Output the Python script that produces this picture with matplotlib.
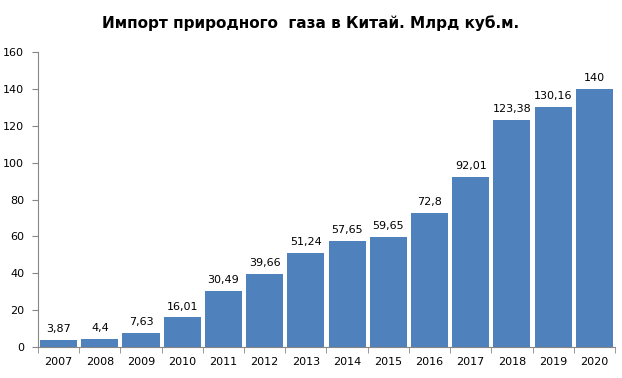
import matplotlib
matplotlib.use("Agg")
import matplotlib.pyplot as plt
import numpy as np

years = ["2007", "2008", "2009", "2010", "2011", "2012", "2013", "2014",
         "2015", "2016", "2017", "2018", "2019", "2020"]
values = [3.87, 4.4, 7.63, 16.01, 30.49, 39.66, 51.24, 57.65, 59.65,
          72.8, 92.01, 123.38, 130.16, 140]
labels = ["3,87", "4,4", "7,63", "16,01", "30,49", "39,66", "51,24", "57,65",
          "59,65", "72,8", "92,01", "123,38", "130,16", "140"]

fig = plt.figure(figsize=(6.22, 3.78), dpi=100)
ax = fig.add_axes([0.0611, 0.082, 0.9276, 0.7804])
x = np.arange(len(years))
ax.bar(x, values, width=0.9, color="#4F81BD")
for xi, v, lab in zip(x, values, labels):
    ax.text(xi, v + 3.2, lab, ha="center", va="bottom", fontsize=8, color="#000000")

ax.set_xlim(-0.5, len(years) - 0.5)
ax.set_ylim(0, 160)
ax.set_yticks(range(0, 161, 20))
ax.set_xticks(x)
ax.set_xticklabels(years, fontsize=8)
ax.set_xticks(np.arange(-0.5, len(years), 1), minor=True)
ax.tick_params(axis="x", which="major", length=0, pad=7)
ax.tick_params(axis="x", which="minor", length=4, color="#878787")
ax.tick_params(axis="y", labelsize=8, length=4, color="#878787", pad=6)
for s in ["top", "right"]:
    ax.spines[s].set_visible(False)
for s in ["left", "bottom"]:
    ax.spines[s].set_color("#878787")
fig.text(0.5, 0.938, "Импорт природного  газа в Китай. Млрд куб.м.",
         ha="center", va="center", fontsize=11, fontweight="bold")
fig.savefig("out.png", dpi=100)
